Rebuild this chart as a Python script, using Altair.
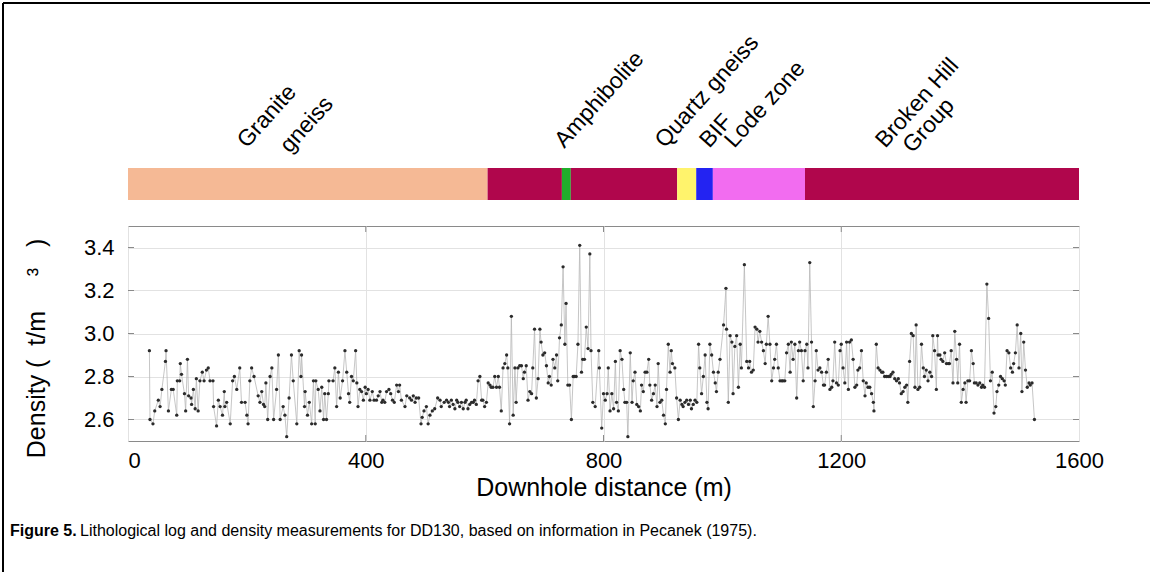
import altair as alt
import pandas as pd

depth_a = [36,37,42,45,51,54,57,63,64,68,73,76,82,83,87,88,90,95,97,100,102,106,107,110,113,115,118,121,125,128,
           132,135,138,143,144,149,152,155,159,162,163,166,172,176,179,183,188,191,197,200,202,205,208,212,219,222,
           225,228,230,232,235,239,242,245,250,253,256,261,264,267,271,275,278]
dens_a = [2.92,2.60,2.58,2.64,2.69,2.66,2.74,2.87,2.92,2.64,2.74,2.74,2.62,2.78,2.78,2.86,2.81,2.72,2.64,2.88,
          2.71,2.70,2.67,2.74,2.65,2.79,2.64,2.78,2.82,2.78,2.83,2.84,2.78,2.78,2.66,2.57,2.69,2.66,2.62,2.73,
          2.66,2.68,2.58,2.78,2.80,2.74,2.84,2.68,2.68,2.62,2.58,2.78,2.84,2.80,2.71,2.68,2.73,2.67,2.66,2.77,
          2.60,2.80,2.84,2.60,2.74,2.90,2.60,2.66,2.62,2.52,2.70,2.90,2.78]

depth_b = [284,288,291,292,297,298,302,305,309,312,315,316,320,323,326,329,331,334,337,338,345,348,351,354,357,361,
           365,368,371,373,376,379,383,385,387,390,393,396,399,401,404,407,411,414,418,421,424,427,429,432,435,439,
           442,445,448,452,455,457,460,466,469,474,477,480,483,485,489,493,495,498,502,505,508,512,516,521,525,527,532]
dens_b = [2.58,2.92,2.80,2.90,2.66,2.73,2.62,2.68,2.58,2.78,2.58,2.78,2.74,2.64,2.75,2.60,2.72,2.60,2.72,2.78,
          2.78,2.84,2.66,2.82,2.70,2.78,2.92,2.82,2.72,2.68,2.80,2.78,2.92,2.77,2.66,2.74,2.73,2.69,2.75,2.72,
          2.74,2.69,2.73,2.69,2.69,2.71,2.73,2.68,2.69,2.68,2.73,2.74,2.72,2.69,2.68,2.76,2.73,2.76,2.69,2.66,
          2.71,2.70,2.69,2.71,2.68,2.70,2.70,2.58,2.61,2.64,2.66,2.58,2.62,2.64,2.65,2.70,2.69,2.66,2.68]

depth_c = [536,539,541,544,547,550,553,555,558,561,564,567,569,572,575,578,581,583,586,589,592,595,597,600,603,606,
           609,611,614,617,620,623,625,628,631,634,637,639,642,645,648,651,653,656,659,662,665,667,670,673,676,679,
           681,684,687,690,693,695,698,701,704,707,709,712,715,718,721,723,726,729,732,735,737,740,743,746,749,751,
           754,757,760,763,765,768,771,774,777,779,782]
dens_c = [2.69,2.68,2.66,2.69,2.67,2.65,2.69,2.68,2.66,2.68,2.65,2.68,2.69,2.65,2.67,2.68,2.68,2.69,2.67,2.78,
          2.80,2.69,2.69,2.66,2.68,2.77,2.76,2.75,2.75,2.80,2.75,2.80,2.75,2.64,2.84,2.86,2.90,2.84,2.58,3.08,
          2.62,2.84,2.68,2.84,2.85,2.85,2.79,2.82,2.85,2.69,2.73,2.72,2.84,3.02,2.70,2.79,3.02,2.96,2.90,2.91,
          2.85,2.77,2.80,2.76,2.88,2.84,2.90,2.78,2.98,3.04,3.31,2.95,3.14,2.76,2.76,2.60,2.80,2.80,2.80,2.95,
          3.41,2.82,2.88,2.88,3.03,2.93,3.37,2.92,2.68]

depth_d = [786,792,793,797,800,803,806,808,811,814,817,820,822,825,828,831,834,836,839,841,845,848,850,853,856,859,
           862,864,867,870,873,876,878,881,884,887,890,892,895,898,901,904,906,909,912,914,916,920,923,926,929,932,
           934,937,940,943,946,948,951,954,957,960,962,965,968,971,974,976,979,982,985,988,990,993,996,1002,1006,
           1007,1010,1013,1016,1018,1021,1024,1027,1030,1032,1037]
dens_d = [2.66,2.92,2.84,2.56,2.72,2.69,2.72,2.84,2.64,2.72,2.65,2.87,2.68,2.64,2.92,2.88,2.74,2.68,2.68,2.52,
          2.91,2.68,2.78,2.82,2.67,2.66,2.64,2.76,2.73,2.82,2.82,2.88,2.76,2.69,2.72,2.76,2.66,2.86,2.68,2.69,
          2.62,2.58,2.74,2.95,2.82,2.92,2.86,2.84,2.70,2.60,2.69,2.67,2.66,2.68,2.69,2.67,2.69,2.65,2.67,2.69,
          2.68,2.95,2.84,2.72,2.80,2.90,2.68,2.65,2.95,2.90,2.82,2.77,2.73,2.82,2.88,3.04,3.21,3.02,2.68,2.99,
          2.96,2.72,2.94,2.99,2.75,2.95,2.84,3.32]

depth_e = [1041,1044,1046,1049,1052,1055,1058,1060,1063,1066,1069,1072,1074,1077,1080,1083,1086,1088,1091,1094,
           1097,1100,1102,1105,1108,1111,1114,1116,1119,1122,1125,1128,1130,1133,1136,1139,1142,1144,1147,1150,
           1153,1156,1158,1161,1164,1167,1170,1172,1175,1178,1181,1184,1186,1189,1192,1195,1198,1200,1203,1206,
           1209,1212,1214,1217,1220,1223,1226,1228,1231,1234,1237,1240,1242,1245,1248,1251,1254,1255,1259,1262,
           1265,1268,1270,1273,1276,1279,1282,1284,1287]
dens_e = [2.87,2.84,2.87,2.82,2.83,3.03,3.02,2.96,3.01,2.96,2.92,2.86,2.95,3.08,2.95,2.78,2.84,2.88,2.95,2.84,
          2.78,2.78,2.78,2.78,2.91,2.95,2.82,2.96,2.88,2.95,2.70,2.92,2.96,2.92,2.78,2.92,2.95,2.84,3.33,2.96,
          2.66,2.78,2.92,2.83,2.84,2.82,2.76,2.76,2.82,2.88,2.74,2.75,2.78,2.96,2.77,2.76,2.92,2.95,2.84,2.77,
          2.96,2.74,2.96,2.97,2.88,2.75,2.76,2.83,2.84,2.92,2.78,2.71,2.77,2.75,2.75,2.72,2.68,2.64,2.95,2.84,
          2.83,2.82,2.82,2.80,2.80,2.80,2.80,2.81,2.82]

depth_f = [1290,1293,1296,1298,1301,1304,1307,1310,1312,1315,1318,1321,1324,1326,1329,1332,1335,1338,1340,1343,
           1346,1349,1352,1354,1357,1360,1362,1363,1366,1368,1371,1374,1377,1380,1382,1385,1388,1391,1394,1396,
           1399,1402,1405,1408,1410,1413,1416,1419,1422,1424,1427,1430,1433,1436,1438,1441,1445,1448,1451,1454,
           1457,1460,1462,1465,1468,1471,1474,1476,1479,1482,1485,1488,1490,1493,1496,1499,1502,1504,1507,1510,
           1513,1516,1518,1521,1525]
dens_f = [2.79,2.78,2.79,2.77,2.72,2.73,2.75,2.76,2.68,2.87,3.00,2.99,2.75,3.04,2.74,2.75,2.95,2.84,2.80,2.83,
          2.78,2.82,2.80,2.99,2.92,2.74,2.99,2.90,2.90,2.88,2.87,2.91,2.86,2.86,2.86,2.92,2.77,3.01,2.88,2.77,
          2.95,2.68,2.74,2.77,2.68,2.78,2.78,2.92,2.86,2.77,2.77,2.76,2.77,2.75,2.76,2.75,3.23,3.07,2.78,2.82,
          2.63,2.66,2.73,2.76,2.80,2.79,2.78,2.76,2.92,2.91,2.84,2.82,2.86,2.91,3.04,2.84,3.00,2.73,2.96,2.83,
          2.75,2.77,2.76,2.77,2.60]

# ---------------- lithological log ----------------
litho_unit = ["Granite gneiss", "Amphibolite", "Amphibolite band", "Amphibolite",
              "Quartz gneiss", "BIF", "Lode zone", "Broken Hill Group"]
litho_start = [0, 605, 730, 745, 924, 956, 984, 1139]
litho_end = [605, 730, 745, 924, 956, 984, 1139, 1600]
litho_color = ["#F5B995", "#B0064C", "#1FAE2B", "#B0064C", "#FFF36C", "#2323F2", "#F26CF0", "#B0064C"]

label_line1 = ["Granite", "Amphibolite", "Quartz gneiss", "BIF", "Lode zone", "Broken Hill"]
label_line1_depth = [200, 734, 903, 978, 1020, 1274]
label_line2 = ["gneiss", "Group"]
label_line2_depth = [272, 1320]

x_ticks = [0, 400, 800, 1200, 1600]
y_ticks = [2.6, 2.8, 3.0, 3.2, 3.4]

caption_bold = "Figure 5."
caption_text = "Lithological log and density measurements for DD130, based on information in Pecanek (1975)."

NB = "\u00a0"
y_title = "Density" + NB + "(" + NB * 2 + "t/m" + NB * 5 + "³" + NB * 3 + ")"

# ---------------- build tables ----------------
depth = depth_a + depth_b + depth_c + depth_d + depth_e + depth_f
density = dens_a + dens_b + dens_c + dens_d + dens_e + dens_f
n = min(len(depth), len(density))
df = pd.DataFrame({"depth": depth[:n], "density": density[:n], "order": list(range(n))})
litho = pd.DataFrame({"unit": litho_unit, "start": litho_start, "end": litho_end, "color": litho_color})
lab1 = pd.DataFrame({"label": label_line1, "ldepth": label_line1_depth})
lab2 = pd.DataFrame({"label": label_line2, "ldepth": label_line2_depth})
xt = pd.DataFrame({"tv": x_ticks[1:-1]})
yt = pd.DataFrame({"tv": y_ticks})
one = pd.DataFrame({"k": [0]})

FONT = "Liberation Sans"
W, H = 951, 215
PL, PT = 128, 226
TICK = 6
FRAME = "#8a8a8a"

x_scale = alt.Scale(domain=[0, 1600], nice=False, zero=False)
y_scale = alt.Scale(domain=[2.5, 3.5], nice=False, zero=False)
x_axis = alt.Axis(values=x_ticks, format="d", title="Downhole distance (m)", grid=True, ticks=False,
                  labelFlush=False, labelPadding=9, titlePadding=4, domain=False,
                  labelAlign={"condition": {"test": "datum.value === 0", "value": "left"}, "value": "center"},
                  titleFontSize=25)
y_axis = alt.Axis(values=y_ticks, format=".1f", title=y_title, grid=True, ticks=False,
                  labelPadding=14, titlePadding=34, domain=False, titleFontSize=25, titleY=122)

X = lambda f: alt.X(f, type="quantitative", scale=x_scale, axis=x_axis)
Y = lambda f: alt.Y(f, type="quantitative", scale=y_scale, axis=y_axis)

line = alt.Chart(df).mark_line(color="#b8b8b8", strokeWidth=0.8).encode(
    x=X("depth"), y=Y("density"), order="order:Q")
pts = alt.Chart(df).mark_circle(size=11, color="#2b2b2b", opacity=1).encode(
    x=X("depth"), y=Y("density"))

# inward tick marks on the box
xt_top = alt.Chart(xt).mark_rule(color=FRAME, strokeWidth=1).encode(
    x=X("tv"), y=alt.value(0), y2=alt.value(TICK))
xt_bot = alt.Chart(xt).mark_rule(color=FRAME, strokeWidth=1).encode(
    x=X("tv"), y=alt.value(H - TICK), y2=alt.value(H))
yt_left = alt.Chart(yt).mark_rule(color=FRAME, strokeWidth=1).encode(
    y=Y("tv"), x=alt.value(0), x2=alt.value(TICK))
yt_right = alt.Chart(yt).mark_rule(color=FRAME, strokeWidth=1).encode(
    y=Y("tv"), x=alt.value(W - TICK), x2=alt.value(W))

bar = alt.Chart(litho).mark_rect().encode(
    x=X("start"), x2="end:Q", y=alt.value(168 - PT), y2=alt.value(200 - PT),
    color=alt.Color("color:N", scale=None))

t1 = alt.Chart(lab1).mark_text(angle=312, align="left", baseline="alphabetic", fontSize=23,
                               font=FONT, color="black").encode(
    x=X("ldepth"), y=alt.value(149 - PT), text="label:N")
t2 = alt.Chart(lab2).mark_text(angle=312, align="left", baseline="alphabetic", fontSize=23,
                               font=FONT, color="black").encode(
    x=X("ldepth"), y=alt.value(154 - PT), text="label:N")

cap1 = alt.Chart(one).mark_text(align="left", baseline="middle", fontSize=16, fontWeight="bold",
                                font=FONT, color="black").encode(
    x=alt.value(10 - PL), y=alt.value(531 - PT), text=alt.value(caption_bold))
cap2 = alt.Chart(one).mark_text(align="left", baseline="middle", fontSize=16,
                                font=FONT, color="black").encode(
    x=alt.value(80 - PL), y=alt.value(531 - PT), text=alt.value(caption_text))

border_left = alt.Chart(one).mark_rule(color="black", strokeWidth=2).encode(
    x=alt.value(3 - PL), y=alt.value(3 - PT), y2=alt.value(572 - PT))
border_top = alt.Chart(one).mark_rule(color="black", strokeWidth=2).encode(
    x=alt.value(3 - PL), x2=alt.value(1150 - PL), y=alt.value(3 - PT))

chart = alt.layer(line, pts, xt_top, xt_bot, yt_left, yt_right, bar, t1, t2,
                  cap1, cap2, border_left, border_top).properties(
    width=W, height=H,
    padding={"left": PL, "top": PT, "right": 1150 - PL - W, "bottom": 572 - PT - H},
    autosize=alt.AutoSizeParams(type="none"),
    background="white",
).configure_view(stroke=FRAME, strokeWidth=1).configure_axis(
    labelFont=FONT, labelFontSize=22, labelColor="black",
    titleFont=FONT, titleFontWeight="normal", titleColor="black",
    gridColor="#e2e2e2", gridWidth=1,
)

chart.save("out.html", embed_options={"renderer": "svg", "actions": False})
